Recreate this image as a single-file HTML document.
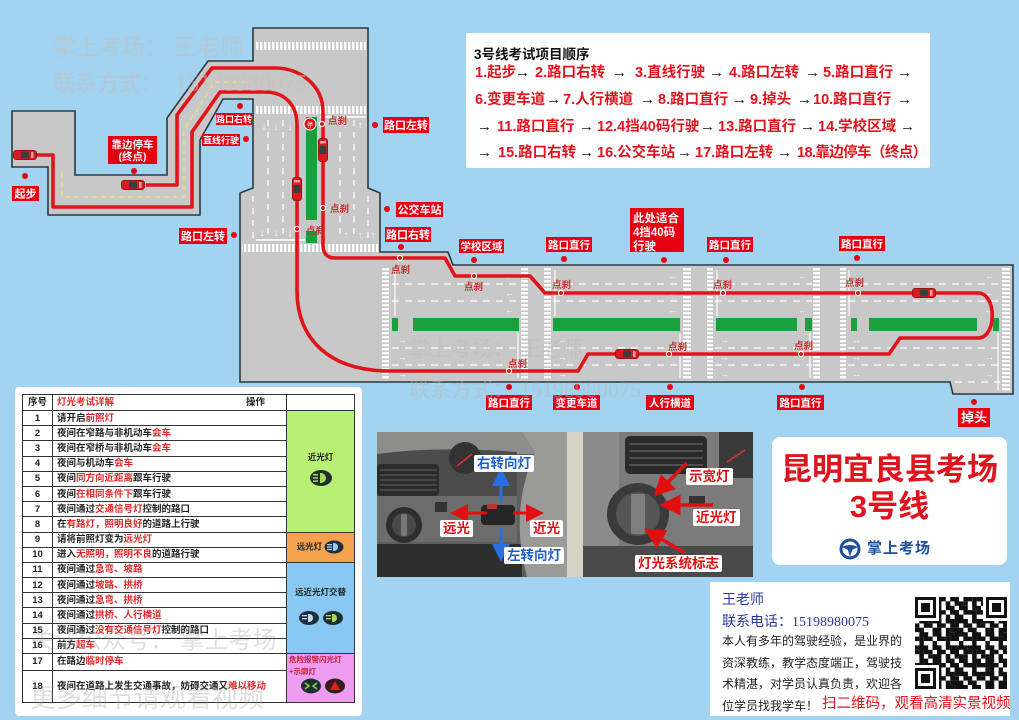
<!DOCTYPE html>
<html><head><meta charset="utf-8">
<style>
*{margin:0;padding:0;box-sizing:border-box}
body{width:1019px;height:720px;overflow:hidden;background:#a2d3f1;position:relative;font-family:"Liberation Sans","Noto Sans CJK SC",sans-serif}
.seq{position:absolute;font-size:14.5px;font-weight:bold;color:#e3141e;white-space:nowrap;line-height:18px}
.ar{position:absolute;font-size:15px;font-weight:bold;color:#111;line-height:18px}
.card{position:absolute;background:#fff}
table.lt{position:absolute;left:22px;top:394px;width:332px;border-collapse:collapse;table-layout:fixed;font-size:9.5px;font-weight:bold;color:#222}
table.lt td{border:1.4px solid #333;padding:0 0 0 4px;white-space:nowrap;overflow:hidden;line-height:11px;vertical-align:middle}
table.lt td.n{text-align:center;padding:0}
table.lt tr{height:15.2px}
.r{color:#e02a2a}
.op{text-align:center;padding:0 !important;font-size:8.5px}
.pl{position:absolute;background:#fff;font-weight:bold;font-size:13.5px;line-height:17px;padding:0 3px;border-radius:2px;white-space:nowrap}
.wm{position:absolute;color:rgba(150,150,150,0.33);white-space:nowrap;font-family:"Liberation Sans","Noto Sans CJK SC",sans-serif}
</style></head><body>

<svg width="1019" height="720" viewBox="0 0 1019 720" style="position:absolute;left:0;top:0">
<defs>
<pattern id="zv" width="4" height="8" patternUnits="userSpaceOnUse"><rect width="2.4" height="8" fill="#fff"/></pattern>
<pattern id="zh" width="8" height="4" patternUnits="userSpaceOnUse"><rect width="8" height="2.4" fill="#fff"/></pattern>
<symbol id="carH" viewBox="0 0 24 10" width="24" height="10"><rect x="0.3" y="0.3" width="23.4" height="9.4" rx="3" fill="#d81b20" stroke="#7a0a0a" stroke-width=".6"/><rect x="8" y="1.6" width="8" height="6.8" rx="1.5" fill="#3c3c3c"/><rect x="18" y="2" width="2.5" height="6" fill="#f0a0a0"/></symbol>
<symbol id="carV" viewBox="0 0 10 24" width="10" height="24"><rect x="0.3" y="0.3" width="9.4" height="23.4" rx="3" fill="#d81b20" stroke="#7a0a0a" stroke-width=".6"/><rect x="1.6" y="8" width="6.8" height="8" rx="1.5" fill="#3c3c3c"/><rect x="2" y="3" width="6" height="2.5" fill="#f0a0a0"/></symbol>
</defs>

<polygon points="12,111 75,111 75,175 167,175 167,118 208,61 253,61 253,28 368,28 368,188 380,193 380,252 448,252 453,265 1013,265 1013,394 953,394 950,382 240,382 240,193 253,188 253,99 223,99 200,140 200,215 48,215 48,167 12,167" fill="#c8c8c8" stroke="#2b3a42" stroke-width="1.6" stroke-linejoin="miter"/>

<path d="M62,173 L62,197 L184,197 L184,130 L215,82 L252,82" fill="none" stroke="#ece070" stroke-width="1.3" stroke-dasharray="5,4"/>

<rect x="256" y="42" width="110" height="8" fill="url(#zv)"/>
<rect x="256" y="106" width="110" height="8" fill="url(#zv)"/>
<rect x="242" y="244" width="136" height="8" fill="url(#zv)"/>
<g stroke="#fff" stroke-width="1.3" stroke-dasharray="6,6" fill="none">
<line x1="268" y1="120" x2="268" y2="240"/>
<line x1="283" y1="120" x2="283" y2="240"/>
<line x1="340" y1="120" x2="340" y2="240"/>
<line x1="354" y1="120" x2="354" y2="240"/>
<line x1="253" y1="196" x2="253" y2="240"/>
<line x1="368" y1="196" x2="368" y2="240"/>
</g>
<line x1="320" y1="117" x2="366" y2="117" stroke="#fff" stroke-width="1.4"/>
<line x1="256" y1="240" x2="305" y2="240" stroke="#fff" stroke-width="1.4"/>
<g fill="#fff" font-size="10" font-family="Liberation Sans,sans-serif" text-anchor="middle">
<text x="264" y="130">↓</text><text x="276" y="130">↓</text><text x="290" y="130">↓</text>
<text x="345" y="128">↑</text><text x="360" y="128">↑</text>
<text x="262" y="236">↓</text><text x="276" y="236">↓</text><text x="290" y="236">↓</text>
<text x="346" y="238">↑</text><text x="360" y="238">↑</text><text x="373" y="238">↑</text>
</g>
<rect x="306" y="117" width="11" height="103" fill="#18a03c"/>
<rect x="306" y="231" width="11" height="12" fill="#18a03c"/>

<g fill="url(#zh)">
<rect x="382" y="268" width="7" height="111"/>
<rect x="521" y="268" width="7" height="111"/>
<rect x="544" y="268" width="7" height="111"/>
<rect x="683" y="268" width="8" height="111"/>
<rect x="707" y="268" width="6" height="111"/>
<rect x="813" y="268" width="7" height="111"/>
<rect x="840" y="268" width="6" height="111"/>
<rect x="1002" y="268" width="8" height="124"/>
</g>
<g stroke="#fff" stroke-width="1.3" stroke-dasharray="7,6" fill="none">
<path d="M392,284H520M392,301H520M392,348H520M392,365H520"/>
<path d="M553,284H682M553,301H682M553,348H682M553,365H682"/>
<path d="M715,284H812M715,301H812M715,348H812M715,365H812"/>
<path d="M848,284H1000M848,301H1000M848,348H1000M848,365H1000M955,382H1000"/>
</g>
<g stroke="#fff" stroke-width="1.2">
<line x1="395" y1="270" x2="395" y2="316"/><line x1="555" y1="270" x2="555" y2="316"/><line x1="717" y1="270" x2="717" y2="316"/><line x1="849" y1="270" x2="849" y2="316"/>
<line x1="518" y1="333" x2="518" y2="378"/><line x1="680" y1="333" x2="680" y2="378"/><line x1="810" y1="333" x2="810" y2="378"/><line x1="998" y1="333" x2="998" y2="390"/>
</g>
<g fill="#fff" font-size="9" font-family="Liberation Sans,sans-serif">
<text x="505" y="279">←</text><text x="505" y="296">←</text><text x="505" y="313">←</text>
<text x="398" y="343">→</text><text x="398" y="360">→</text><text x="398" y="377">→</text>
<text x="668" y="279">←</text><text x="668" y="296">←</text><text x="668" y="313">←</text>
<text x="558" y="343">→</text><text x="558" y="360">→</text><text x="558" y="377">→</text>
<text x="798" y="279">←</text><text x="798" y="296">←</text><text x="798" y="313">←</text>
<text x="720" y="343">→</text><text x="720" y="360">→</text><text x="720" y="377">→</text>
<text x="985" y="279">←</text><text x="985" y="296">←</text><text x="985" y="313">←</text>
<text x="852" y="343">→</text><text x="852" y="360">→</text><text x="852" y="377">→</text>
<text x="985" y="360">→</text><text x="985" y="377">→</text>
</g>
<g fill="#18a03c">
<rect x="392" y="318" width="6" height="13"/>
<rect x="413" y="318" width="106" height="13"/>
<rect x="553" y="318" width="127" height="13"/>
<rect x="716" y="318" width="81" height="13"/>
<rect x="805" y="318" width="7" height="13"/>
<rect x="851" y="318" width="6" height="13"/>
<rect x="869" y="318" width="108" height="13"/>
<rect x="993" y="318" width="6" height="13"/>
</g>

<path d="M37,155 L53,155 L53,207 L192,207 L192,132 L220,92 L265,92 C285,92 297,105 297,125 L297,290 C297,340 330,371 390,371 L578,371 L588,354 L889,354 L900,338 L978,338 C997,338 997,293 978,293 L545,293 L530,276 L455,276 L445,258 L335,258 C327,258 323,253 323,245 L323,112 C323,85 300,68 275,68 L212,68 L177,115 L177,185 L146,185" fill="none" stroke="#e1141c" stroke-width="3.6" stroke-linejoin="round"/>
<g fill="#c62828" stroke="#fff" stroke-width="1">
<circle cx="322" cy="124" r="2.6"/><circle cx="323" cy="208" r="2.6"/><circle cx="297" cy="229" r="2.6"/>
<circle cx="400" cy="258" r="2.6"/><circle cx="474" cy="276" r="2.6"/><circle cx="509" cy="371" r="2.6"/>
<circle cx="561" cy="293" r="2.6"/><circle cx="723" cy="293" r="2.6"/><circle cx="858" cy="293" r="2.6"/>
<circle cx="669" cy="354" r="2.6"/><circle cx="801" cy="354" r="2.6"/>
</g>
<circle cx="310" cy="124" r="6" fill="#e0141e" stroke="#fff" stroke-width="1"/>
<text x="310" y="127" font-size="6" fill="#fff" text-anchor="middle" font-family="Noto Sans CJK SC,sans-serif">停</text>

<use href="#carH" x="13" y="150"/>
<use href="#carH" x="121" y="180"/>
<use href="#carV" x="318" y="138"/>
<use href="#carV" x="292" y="177"/>
<use href="#carH" x="615" y="349"/>
<use href="#carH" x="912" y="288"/>

<g fill="#c0302a" font-size="9.5" font-weight="bold" font-family="Liberation Sans,Noto Sans CJK SC,sans-serif">
<text x="328" y="124">点刹</text><text x="330" y="212">点刹</text><text x="306" y="234">点刹</text>
<text x="391" y="273">点刹</text><text x="464" y="290">点刹</text><text x="508" y="367">点刹</text>
<text x="552" y="288">点刹</text><text x="713" y="288">点刹</text><text x="845" y="286">点刹</text>
<text x="668" y="350">点刹</text><text x="794" y="349">点刹</text>
</g>

<g fill="#e60012">
<rect x="12" y="186" width="27" height="15"/>
<rect x="108" y="136" width="49" height="28"/>
<rect x="216" y="113" width="36" height="12"/>
<rect x="202" y="134" width="38" height="12"/>
<rect x="383" y="117" width="46" height="16"/>
<rect x="396" y="202" width="47" height="15"/>
<rect x="179" y="228" width="48" height="16"/>
<rect x="385" y="227" width="46" height="15"/>
<rect x="459" y="239" width="45" height="14"/>
<rect x="546" y="237" width="46" height="15"/>
<rect x="630" y="208" width="54" height="44"/>
<rect x="707" y="237" width="46" height="15"/>
<rect x="839" y="236" width="46" height="15"/>
<rect x="486" y="395" width="46" height="15"/>
<rect x="553" y="395" width="47" height="15"/>
<rect x="646" y="395" width="48" height="15"/>
<rect x="777" y="395" width="47" height="15"/>
<rect x="958" y="408" width="32" height="19"/>
<circle cx="25" cy="176" r="3"/><circle cx="134" cy="171" r="3"/><circle cx="240" cy="106" r="3"/><circle cx="246" cy="139" r="3"/>
<circle cx="375" cy="125" r="3"/><circle cx="387" cy="209" r="3"/><circle cx="234" cy="235" r="3"/><circle cx="401" cy="247" r="3"/>
<circle cx="474" cy="260" r="3"/><circle cx="564" cy="259" r="3"/><circle cx="664" cy="260" r="3"/><circle cx="726" cy="260" r="3"/>
<circle cx="857" cy="258" r="3"/><circle cx="509" cy="387" r="3"/><circle cx="577" cy="387" r="3"/><circle cx="670" cy="387" r="3"/>
<circle cx="802" cy="387" r="3"/><circle cx="974" cy="402" r="3"/>
</g>
<g fill="#fff" font-weight="bold" text-anchor="middle" font-family="Liberation Sans,Noto Sans CJK SC,sans-serif">
<text x="25.5" y="197.5" font-size="11">起步</text>
<text x="132.5" y="148" font-size="10.5">靠边停车</text>
<text x="132.5" y="160" font-size="10.5">(终点)</text>
<text x="234" y="122.3" font-size="9">路口右转</text>
<text x="221" y="143.3" font-size="9">直线行驶</text>
<text x="406" y="129" font-size="11">路口左转</text>
<text x="419.5" y="213.5" font-size="11">公交车站</text>
<text x="203" y="240" font-size="11">路口左转</text>
<text x="408" y="238.5" font-size="11">路口右转</text>
<text x="481.5" y="249.8" font-size="10.5">学校区域</text>
<text x="569" y="248.3" font-size="10.5">路口直行</text>
<text x="730" y="248.3" font-size="10.5">路口直行</text>
<text x="862" y="247.3" font-size="10.5">路口直行</text>
<text x="509" y="406.5" font-size="10.5">路口直行</text>
<text x="576.5" y="406.5" font-size="10.5">变更车道</text>
<text x="670" y="406.5" font-size="10.5">人行横道</text>
<text x="800.5" y="406.5" font-size="10.5">路口直行</text>
<text x="974" y="422" font-size="13">掉头</text>
</g>
<g fill="#fff" font-weight="bold" font-size="11.5" font-family="Liberation Sans,Noto Sans CJK SC,sans-serif">
<text x="633" y="222">此处适合</text>
<text x="633" y="236">4挡40码</text>
<text x="633" y="250">行驶</text>
</g>
</svg>

<div class="wm" style="left:53px;top:28px;font-size:23px;color:rgba(200,192,185,0.5)">掌上考场：&nbsp;王老师</div>
<div class="wm" style="left:53px;top:66px;font-size:22px;color:rgba(200,192,185,0.5)">联系方式：&nbsp;&nbsp;<span style="font-family:'Liberation Serif',serif;font-size:24px">15198980075</span></div>
<div class="wm" style="left:409px;top:333px;font-size:21px;color:rgba(190,185,180,0.45)">掌上考场：&nbsp;王老师</div>
<div class="wm" style="left:409px;top:374px;font-size:21px;color:rgba(190,185,180,0.45)">联系方式：&nbsp;<span style="font-family:'Liberation Serif',serif;font-size:22px">15198980075</span></div>

<div class="card" style="left:466px;top:33px;width:464px;height:135px;border-radius:2px"></div>
<div style="position:absolute;left:474px;top:43px;font-size:13.5px;font-weight:bold;color:#111;white-space:nowrap">3号线考试项目顺序</div>
<span class="seq" style="left:475px;top:64px">1.起步</span><span class="ar" style="left:515px;top:64px">→</span>
<span class="seq" style="left:535px;top:64px">2.路口右转</span><span class="ar" style="left:612px;top:64px">→</span>
<span class="seq" style="left:635px;top:64px">3.直线行驶</span><span class="ar" style="left:709px;top:64px">→</span>
<span class="seq" style="left:729px;top:64px">4.路口左转</span><span class="ar" style="left:805px;top:64px">→</span>
<span class="seq" style="left:823px;top:64px">5.路口直行</span><span class="ar" style="left:897px;top:64px">→</span>

<span class="seq" style="left:475px;top:91px">6.变更车道</span><span class="ar" style="left:546px;top:91px">→</span>
<span class="seq" style="left:563px;top:91px">7.人行横道</span><span class="ar" style="left:640px;top:91px">→</span>
<span class="seq" style="left:658px;top:91px">8.路口直行</span><span class="ar" style="left:732px;top:91px">→</span>
<span class="seq" style="left:750px;top:91px">9.掉头</span><span class="ar" style="left:797px;top:91px">→</span>
<span class="seq" style="left:813px;top:91px">10.路口直行</span><span class="ar" style="left:897px;top:91px">→</span>

<span class="ar" style="left:477px;top:118px">→</span><span class="seq" style="left:497px;top:118px">11.路口直行</span>
<span class="ar" style="left:579px;top:118px">→</span><span class="seq" style="left:597px;top:118px">12.4挡40码行驶</span>
<span class="ar" style="left:700px;top:118px">→</span><span class="seq" style="left:718px;top:118px">13.路口直行</span>
<span class="ar" style="left:800px;top:118px">→</span><span class="seq" style="left:818px;top:118px">14.学校区域</span>
<span class="ar" style="left:900px;top:118px">→</span>

<span class="ar" style="left:477px;top:144px">→</span><span class="seq" style="left:498px;top:144px">15.路口右转</span>
<span class="ar" style="left:579px;top:144px">→</span><span class="seq" style="left:597px;top:144px">16.公交车站</span>
<span class="ar" style="left:677px;top:144px">→</span><span class="seq" style="left:695px;top:144px">17.路口左转</span>
<span class="ar" style="left:777px;top:144px">→</span><span class="seq" style="left:797px;top:144px;letter-spacing:-0.6px">18.靠边停车（终点）</span>

<div class="card" style="left:15px;top:387px;width:347px;height:329px;border-radius:4px"></div>
<table class="lt">
<colgroup><col style="width:30px"><col style="width:234px"><col style="width:68px"></colgroup>
<tr style="height:16px"><td class="n">序号</td><td><span class="r">灯光考试详解</span><span style="display:inline-block;width:132px"></span>操作</td><td></td></tr>
<tr><td class="n">1</td><td>请开启<span class="r">前照灯</span></td>
<td class="op" rowspan="8" style="background:#b8f074">近光灯<br><svg width="24" height="18" style="margin-top:6px"><ellipse cx="12" cy="9" rx="11" ry="8" fill="#1f2f30"/><path d="M11,4 h1 a5,5 0 0 1 0,10 h-1z" fill="#a6dc5c"/><rect x="4" y="5" width="5" height="1.5" fill="#a6dc5c"/><rect x="4" y="8.2" width="5" height="1.5" fill="#a6dc5c"/><rect x="4" y="11.4" width="5" height="1.5" fill="#a6dc5c"/></svg></td></tr>
<tr><td class="n">2</td><td>夜间在窄路与非机动车<span class="r">会车</span></td></tr>
<tr><td class="n">3</td><td>夜间在窄桥与非机动车<span class="r">会车</span></td></tr>
<tr><td class="n">4</td><td>夜间与机动车<span class="r">会车</span></td></tr>
<tr><td class="n">5</td><td>夜间<span class="r">同方向近距离</span>跟车行驶</td></tr>
<tr><td class="n">6</td><td>夜间<span class="r">在相同条件下</span>跟车行驶</td></tr>
<tr><td class="n">7</td><td>夜间通过<span class="r">交通信号灯</span>控制的路口</td></tr>
<tr><td class="n">8</td><td>在<span class="r">有路灯，照明良好</span>的道路上行驶</td></tr>
<tr><td class="n">9</td><td>请将前照灯变为<span class="r">远光灯</span></td>
<td class="op" rowspan="2" style="background:#f5a24e">远光灯 <svg width="20" height="14" style="vertical-align:middle"><ellipse cx="10" cy="7" rx="9.5" ry="6.5" fill="#1f2f40"/><path d="M9,3 h1 a4,4 0 0 1 0,8 h-1z" fill="#9ec8f0"/><rect x="3" y="4" width="5" height="1.3" fill="#9ec8f0"/><rect x="3" y="6.4" width="5" height="1.3" fill="#9ec8f0"/><rect x="3" y="8.8" width="5" height="1.3" fill="#9ec8f0"/></svg></td></tr>
<tr><td class="n">10</td><td>进入<span class="r">无照明，照明不良</span>的道路行驶</td></tr>
<tr><td class="n">11</td><td>夜间通过<span class="r">急弯、坡路</span></td>
<td class="op" rowspan="6" style="background:#88c8f2">远近光灯交替<br><svg width="46" height="16" style="margin-top:12px"><ellipse cx="11" cy="8" rx="10" ry="7" fill="#1f2f40"/><path d="M10,4 h1 a4,4 0 0 1 0,8 h-1z" fill="#c8d8ea"/><rect x="4" y="5" width="5" height="1.3" fill="#c8d8ea"/><rect x="4" y="8" width="5" height="1.3" fill="#c8d8ea"/><ellipse cx="35" cy="8" rx="10" ry="7" fill="#1f2f30"/><path d="M34,4 h1 a4,4 0 0 1 0,8 h-1z" fill="#a6dc5c"/><rect x="28" y="5" width="5" height="1.3" fill="#a6dc5c"/><rect x="28" y="8" width="5" height="1.3" fill="#a6dc5c"/></svg></td></tr>
<tr><td class="n">12</td><td>夜间通过<span class="r">坡路、拱桥</span></td></tr>
<tr><td class="n">13</td><td>夜间通过<span class="r">急弯、拱桥</span></td></tr>
<tr><td class="n">14</td><td>夜间通过<span class="r">拱桥、人行横道</span></td></tr>
<tr><td class="n">15</td><td>夜间通过<span class="r">没有交通信号灯</span>控制的路口</td></tr>
<tr><td class="n">16</td><td>前方<span class="r">超车</span></td></tr>
<tr style="height:16.7px"><td class="n">17</td><td>在路边<span class="r">临时停车</span></td>
<td class="op" rowspan="2" style="background:#ee9cf0;text-align:left;padding-left:2px !important;vertical-align:top;line-height:12px;font-size:7.5px;color:#c0203a">危险报警闪光灯<br>+示廓灯<br><svg width="60" height="16" style="margin-left:4px"><ellipse cx="18" cy="8" rx="10" ry="7.5" fill="#1f2f30"/><path d="M12,5 l4,3 l-4,3 M24,5 l-4,3 l4,3" stroke="#8ad050" stroke-width="1.5" fill="none"/><ellipse cx="42" cy="8" rx="10" ry="7.5" fill="#3a1a1a"/><path d="M42,3 L47,12 L37,12z" fill="#e02020"/></svg></td></tr>
<tr style="height:32px"><td class="n">18</td><td>夜间在道路上发生交通事故，妨碍交通又<span class="r">难以移动</span></td></tr>
</table>
<div class="wm" style="left:30px;top:620px;font-size:24px;color:rgba(140,140,140,0.28)">关注公众号：&nbsp;掌上考场</div>
<div class="wm" style="left:30px;top:678px;font-size:26px;color:rgba(140,140,140,0.28)">更多细节请观看视频</div>

<svg width="376" height="145" viewBox="0 0 376 145" style="position:absolute;left:377px;top:432px">
<defs>
<marker id="mr" markerWidth="6" markerHeight="6" refX="3" refY="3" orient="auto"><path d="M0,0 L6,3 L0,6z" fill="#e01010"/></marker>
<marker id="mb" markerWidth="6" markerHeight="6" refX="3" refY="3" orient="auto"><path d="M0,0 L6,3 L0,6z" fill="#2a6fe0"/></marker>
</defs>
<rect width="190" height="145" fill="#5e5e5e"/>
<rect width="190" height="22" fill="#8d8d8b"/>
<path d="M0,22 Q60,14 140,20 L140,64 L0,64z" fill="#4c4c4c"/>
<rect x="0" y="32" width="62" height="32" rx="3" fill="#2c2c2c"/>
<g stroke="#5a5a5a" stroke-width="1.2"><line x1="3" y1="38" x2="60" y2="38"/><line x1="3" y1="43" x2="60" y2="43"/><line x1="3" y1="48" x2="60" y2="48"/><line x1="3" y1="53" x2="60" y2="53"/><line x1="3" y1="58" x2="60" y2="58"/></g>
<circle cx="88" cy="26" r="16" fill="#333"/><line x1="80" y1="34" x2="95" y2="22" stroke="#e03030" stroke-width="1.5"/>
<rect x="0" y="64" width="140" height="46" fill="#6c6c6c"/>
<circle cx="27" cy="93" r="18" fill="#2e2e2e"/><circle cx="27" cy="93" r="12" fill="#4a4a4a"/><rect x="24" y="82" width="6" height="22" rx="2" fill="#777"/>
<rect x="58" y="70" width="12" height="10" fill="#333"/>
<rect x="0" y="112" width="145" height="33" fill="#2e2e2e"/>
<path d="M145,0 L190,0 L190,145 L150,145 Q132,80 158,20z" fill="#9a9a98"/>
<rect x="104" y="73" width="34" height="20" rx="4" fill="#262626"/><rect x="110" y="72" width="10" height="5" fill="#b33"/>
<rect x="190" width="186" height="145" fill="#7b7b7b"/>
<rect x="190" width="16" height="145" fill="#d8d2c4"/>
<rect x="206" width="36" height="145" fill="#8c8c8c"/>
<rect x="248" y="4" width="82" height="38" rx="5" fill="#2a2a2a"/>
<g stroke="#666" stroke-width="1.2"><line x1="252" y1="12" x2="326" y2="12"/><line x1="252" y1="19" x2="326" y2="19"/><line x1="252" y1="26" x2="326" y2="26"/><line x1="252" y1="33" x2="326" y2="33"/></g>
<rect x="342" y="0" width="34" height="46" fill="#3a3a3a"/><line x1="350" y1="30" x2="368" y2="18" stroke="#e03030" stroke-width="1.5"/>
<circle cx="261" cy="82" r="31" fill="#3a3a3a"/><circle cx="261" cy="82" r="22" fill="#555"/><rect x="254" y="62" width="14" height="40" rx="2" fill="#7e7e7e"/>
<rect x="312" y="64" width="16" height="10" fill="#333"/>
<rect x="206" y="114" width="170" height="31" fill="#4a4a4a"/>
<line x1="110" y1="81" x2="82" y2="81" stroke="#e01010" stroke-width="3" marker-end="url(#mr)"/>
<line x1="136" y1="81" x2="158" y2="81" stroke="#e01010" stroke-width="3" marker-end="url(#mr)"/>
<line x1="124" y1="70" x2="124" y2="45" stroke="#2a6fe0" stroke-width="3" marker-end="url(#mb)"/>
<line x1="124" y1="96" x2="124" y2="121" stroke="#2a6fe0" stroke-width="3" marker-end="url(#mb)"/>
<line x1="310" y1="31" x2="284" y2="57" stroke="#e01010" stroke-width="3.5" marker-end="url(#mr)"/>
<line x1="336" y1="73" x2="293" y2="73" stroke="#e01010" stroke-width="3.5" marker-end="url(#mr)"/>
<line x1="308" y1="121" x2="276" y2="102" stroke="#e01010" stroke-width="3.5" marker-end="url(#mr)"/>
</svg>
<div class="pl" style="left:474px;top:455px;color:#1f5fc4">右转向灯</div>
<div class="pl" style="left:440px;top:520px;color:#e01010">远光</div>
<div class="pl" style="left:530px;top:520px;color:#e01010">近光</div>
<div class="pl" style="left:504px;top:547px;color:#1f5fc4">左转向灯</div>
<div class="pl" style="left:686px;top:468px;color:#e01010">示宽灯</div>
<div class="pl" style="left:693px;top:509px;color:#e01010">近光灯</div>
<div class="pl" style="left:635px;top:555px;color:#e01010">灯光系统标志</div>

<div class="card" style="left:772px;top:437px;width:235px;height:128px;border-radius:8px"></div>
<div style="position:absolute;left:772px;top:452px;width:235px;text-align:center;font-size:31px;font-weight:bold;color:#e0141e;line-height:36px;white-space:nowrap">昆明宜良县考场</div>
<div style="position:absolute;left:772px;top:489px;width:235px;text-align:center;font-size:31px;font-weight:bold;color:#e0141e;line-height:36px">3号线</div>
<svg width="22" height="22" style="position:absolute;left:839px;top:538px"><circle cx="11" cy="11" r="9" fill="none" stroke="#1d4f9e" stroke-width="3"/><path d="M3,9 Q11,5 19,9 L13,12 L11,19 L9,12z" fill="#1d4f9e"/></svg>
<div style="position:absolute;left:867px;top:540px;font-size:15px;font-weight:bold;color:#1d4f9e;line-height:18px;letter-spacing:1px">掌上考场</div>

<div class="card" style="left:710px;top:582px;width:300px;height:134px"></div>
<div style="position:absolute;left:722px;top:590px;font-size:14px;color:#2b3a9c;line-height:18px">王老师</div>
<div style="position:absolute;left:722px;top:612px;font-size:14px;color:#2b3a9c;line-height:18px;white-space:nowrap">联系电话：<span style="font-family:'Liberation Serif',serif;font-size:14px">15198980075</span></div>
<div style="position:absolute;left:722px;top:631px;font-size:12px;color:#222;line-height:21.5px;white-space:nowrap">本人有多年的驾驶经验，是业界的<br>资深教练，教学态度端正，驾驶技<br>术精湛，对学员认真负责，欢迎各<br>位学员找我学车！</div>
<div style="position:absolute;left:822px;top:695px;font-size:14.5px;color:#e0141e;line-height:18px;white-space:nowrap">扫二维码，观看高清实景视频</div>
<svg width="92" height="92" viewBox="0 0 92 92" style="position:absolute;left:915px;top:597px">
<defs>
<pattern id="q1" width="13.2" height="13.2" patternUnits="userSpaceOnUse"><rect x="0" y="0" width="4.4" height="4.4" fill="#111"/><rect x="8.8" y="0" width="4.4" height="4.4" fill="#111"/><rect x="4.4" y="4.4" width="4.4" height="4.4" fill="#111"/><rect x="4.4" y="8.8" width="8.8" height="4.4" fill="#111"/></pattern>
<pattern id="q2" width="17.6" height="17.6" patternUnits="userSpaceOnUse"><rect x="4.4" y="0" width="4.4" height="8.8" fill="#111"/><rect x="13.2" y="4.4" width="4.4" height="4.4" fill="#111"/><rect x="0" y="13.2" width="8.8" height="4.4" fill="#111"/></pattern>
</defs>
<rect width="92" height="92" fill="#fff"/>
<rect width="92" height="92" fill="url(#q1)"/>
<rect width="92" height="92" fill="url(#q2)"/>
<g><rect x="0" y="0" width="24" height="24" fill="#fff"/><rect x="0" y="0" width="21" height="21" fill="#111"/><rect x="3" y="3" width="15" height="15" fill="#fff"/><rect x="6" y="6" width="9" height="9" fill="#111"/></g>
<g><rect x="68" y="0" width="24" height="24" fill="#fff"/><rect x="71" y="0" width="21" height="21" fill="#111"/><rect x="74" y="3" width="15" height="15" fill="#fff"/><rect x="77" y="6" width="9" height="9" fill="#111"/></g>
<g><rect x="0" y="68" width="24" height="24" fill="#fff"/><rect x="0" y="71" width="21" height="21" fill="#111"/><rect x="3" y="74" width="15" height="15" fill="#fff"/><rect x="6" y="77" width="9" height="9" fill="#111"/></g>
</svg>
</body></html>
